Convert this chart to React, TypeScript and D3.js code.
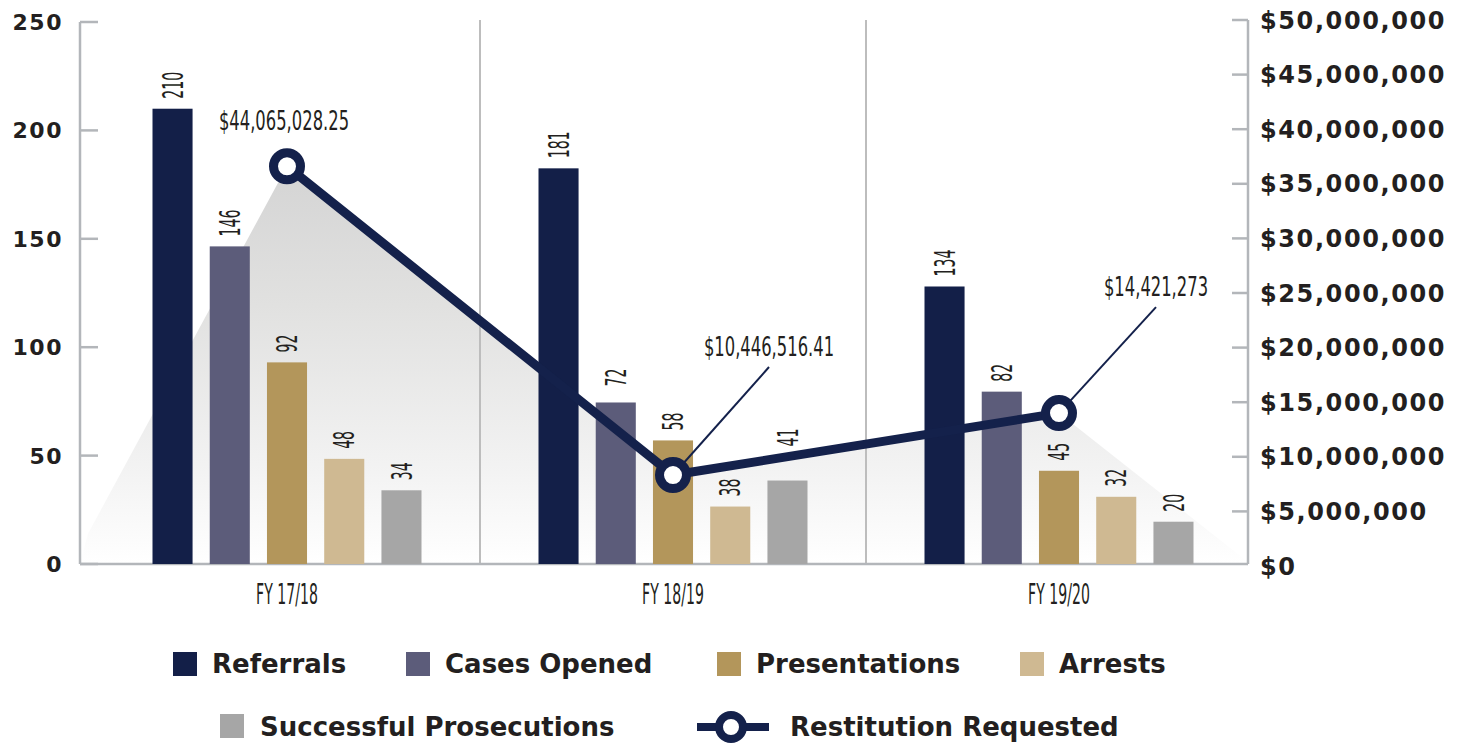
import React from 'react';
import * as d3 from 'd3';

// Categories and series
const years = ['FY 17/18', 'FY 18/19', 'FY 19/20'];
const seriesNames = ['Referrals', 'Cases Opened', 'Presentations', 'Arrests', 'Successful Prosecutions'];
const seriesColors = ['#131f48', '#5c5c7a', '#b3965b', '#cfb992', '#a6a6a6'];

// Printed counts (labels above the bars)
const referralsLabel = [210, 181, 134];
const casesLabel = [146, 72, 82];
const presentationsLabel = [92, 58, 45];
const arrestsLabel = [48, 38, 32];
const prosecutionsLabel = [34, 41, 20];

// Bar heights as they are drawn in the original graphic
const referrals = [210, 182.5, 128];
const casesOpened = [146.5, 74.5, 79.5];
const presentations = [93, 57, 43];
const arrests = [48.5, 26.5, 31];
const prosecutions = [34, 38.5, 19.5];

// Restitution requested: printed amounts and the line as drawn
const restitutionText = ['$44,065,028.25', '$10,446,516.41', '$14,421,273'];
const restitution = [36600000, 8330000, 14000000];

const leftTicks = [0, 50, 100, 150, 200, 250];

const barSeries = [referrals, casesOpened, presentations, arrests, prosecutions];
const labelSeries = [referralsLabel, casesLabel, presentationsLabel, arrestsLabel, prosecutionsLabel];

// layout
const W = 1462;
const H = 746;
const axisL = 80;
const axisR = 1248;
const base = 564;
const navy = '#14214b';
const axisGray = '#b3b6ba';
const ink = '#231f20';
const boldFont = "'DejaVu Sans', sans-serif";
const narrowFont = "'Liberation Sans Narrow', 'DejaVu Sans Condensed', sans-serif";

// callout placement relative to each line point
const callouts = [
  { dx: -3, dy: -36, leader: false },
  { dx: 96, dy: -119, leader: true },
  { dx: 97, dy: -117, leader: true },
];
// extra lift for labels that sit clear of the line
const labelLift: Record<string, number> = { '1-4': 24, '1-1': 6 };

const App: React.FC = () => {
  const x = d3.scaleBand<string>().domain(years).range([94, 1252]);
  const inner = d3
    .scaleBand<string>()
    .domain(seriesNames)
    .range([-134.5, 134.5])
    .paddingInner(0.3);
  const yL = d3.scaleLinear().domain([0, 250]).range([base, 22]);
  const yR = d3.scaleLinear().domain([0, 50000000]).range([566, 20]);
  const money = d3.format('$,');

  const cx = (yr: string) => (x(yr) as number) + x.bandwidth() / 2;
  const pts: [number, number][] = years.map((yr, i) => [cx(yr), yR(restitution[i])]);
  const line = d3.line<[number, number]>();

  const shade: [number, number][] = [
    [axisL, base],
    [axisL + 8, yL(14)],
    ...pts,
    [axisR, base - 2],
    [axisR, base],
  ];

  const legendRow1 = [
    { i: 0, x: 173 },
    { i: 1, x: 406 },
    { i: 2, x: 717 },
    { i: 3, x: 1020 },
  ];

  return (
    <svg width={W} height={H} style={{ position: 'absolute', left: 0, top: 0, background: '#fff' }}>
      <defs>
        <linearGradient id="shade" gradientUnits="userSpaceOnUse" x1="0" x2="0" y1={pts[0][1]} y2={base}>
          <stop offset="0" stopColor="#d4d4d4" />
          <stop offset="0.35" stopColor="#e1e1e0" />
          <stop offset="0.75" stopColor="#f2f2f2" />
          <stop offset="1" stopColor="#ffffff" />
        </linearGradient>
      </defs>

      {/* shaded area under the line */}
      <path d={d3.line()(shade) + 'Z'} fill="url(#shade)" />

      {/* category dividers */}
      {years.slice(1).map((yr) => (
        <line key={yr} x1={x(yr)} x2={x(yr)} y1={20} y2={base} stroke="#bdbdbd" strokeWidth={2} />
      ))}

      {/* left axis */}
      <line x1={axisL} x2={axisL} y1={yL(250)} y2={base} stroke={axisGray} strokeWidth={2.5} />
      {leftTicks.map((t) => (
        <g key={t}>
          <line x1={axisL} x2={axisL + 18} y1={yL(t)} y2={yL(t)} stroke={axisGray} strokeWidth={2.5} />
          <text
            x={63}
            y={yL(t)}
            dy="0.36em"
            textAnchor="end"
            fontFamily={boldFont}
            fontWeight={700}
            fontSize={22}
            letterSpacing={1.5}
            fill={ink}
          >
            {t}
          </text>
        </g>
      ))}

      {/* right axis */}
      <line x1={axisR} x2={axisR} y1={yR(50000000)} y2={base} stroke={axisGray} strokeWidth={2.5} />
      {yR.ticks(10).map((t) => (
        <g key={t}>
          {t > 0 && (
            <line x1={axisR - 16} x2={axisR} y1={yR(t)} y2={yR(t)} stroke={axisGray} strokeWidth={2.5} />
          )}
          <text
            x={1260}
            y={yR(t)}
            dy="0.36em"
            fontFamily={boldFont}
            fontWeight={700}
            fontSize={24}
            letterSpacing={1.6}
            fill={ink}
          >
            {money(t)}
          </text>
        </g>
      ))}

      {/* baseline */}
      <line x1={axisL} x2={axisR} y1={base} y2={base} stroke={axisGray} strokeWidth={2.5} />

      {/* bars and labels */}
      {years.map((yr, yi) =>
        seriesNames.map((s, si) => {
          const bx = cx(yr) + (inner(s) as number);
          const v = barSeries[si][yi];
          const top = yL(v);
          const lx = bx + inner.bandwidth() / 2;
          const ly = top - 10 - (labelLift[`${yi}-${si}`] || 0);
          return (
            <g key={yr + s}>
              <rect x={bx} y={top} width={inner.bandwidth()} height={base - top} fill={seriesColors[si]} />
              <text
                transform={`translate(${lx},${ly}) rotate(-90) scale(0.56,1)`}
                dy="0.36em"
                fontFamily={narrowFont}
                fontSize={28}
                fill={ink}
              >
                {labelSeries[si][yi]}
              </text>
            </g>
          );
        })
      )}

      {/* x labels */}
      {years.map((yr) => (
        <text
          key={yr}
          transform={`translate(${cx(yr)},604) scale(0.54,1)`}
          textAnchor="middle"
          fontFamily={narrowFont}
          fontSize={29}
          fill={ink}
        >
          {yr}
        </text>
      ))}

      {/* restitution line */}
      <path d={line(pts) || ''} fill="none" stroke={navy} strokeWidth={9} strokeLinejoin="round" />
      {pts.map(([px, py], i) => {
        const c = callouts[i];
        return (
          <g key={i}>
            {c.leader && (
              <line x1={px + c.dx} y1={py + c.dy + 11} x2={px} y2={py} stroke={navy} strokeWidth={2} />
            )}
            <circle cx={px} cy={py} r={13.5} fill="#fff" stroke={navy} strokeWidth={9} />
            <text
              transform={`translate(${px + c.dx},${py + c.dy}) scale(0.7,1)`}
              textAnchor="middle"
              fontFamily={narrowFont}
              fontSize={26}
              fill={ink}
            >
              {restitutionText[i]}
            </text>
          </g>
        );
      })}

      {/* legend */}
      {legendRow1.map(({ i, x: lx }) => (
        <g key={seriesNames[i]}>
          <rect x={lx} y={652} width={24} height={24} fill={seriesColors[i]} />
          <text x={lx + 39} y={673} fontFamily={boldFont} fontWeight={700} fontSize={26} fill={ink}>
            {seriesNames[i]}
          </text>
        </g>
      ))}
      <rect x={220} y={714} width={24} height={24} fill={seriesColors[4]} />
      <text x={260} y={736} fontFamily={boldFont} fontWeight={700} fontSize={26} fill={ink}>
        {seriesNames[4]}
      </text>
      <line x1={697} x2={769} y1={727} y2={727} stroke={navy} strokeWidth={8} />
      <circle cx={731} cy={727} r={12} fill="#fff" stroke={navy} strokeWidth={8} />
      <text x={790} y={736} fontFamily={boldFont} fontWeight={700} fontSize={26} fill={ink}>
        Restitution Requested
      </text>
    </svg>
  );
};

export default App;
